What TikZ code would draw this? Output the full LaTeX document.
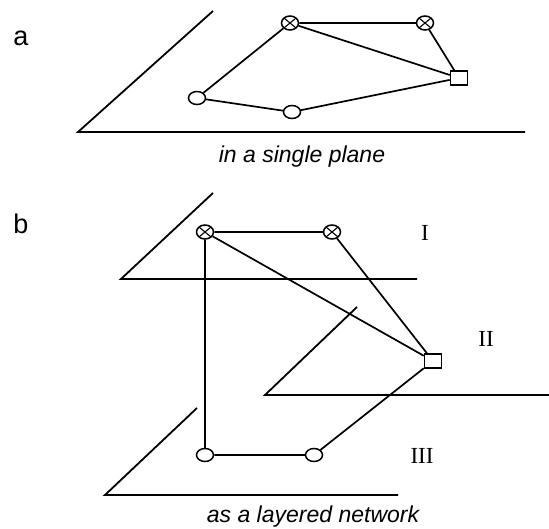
\documentclass[tikz,border=0pt]{standalone}
\usepackage{fontspec}
\setmainfont{Liberation Serif}
\setsansfont{Liberation Sans}
\usetikzlibrary{shapes.geometric,positioning}

\begin{document}
\begin{tikzpicture}[x=1pt, y=-1pt,
  plane/.style={line width=1.8pt},
  link/.style={line width=1.7pt},
  leaf/.style={draw, ellipse, line width=1.5pt, inner sep=0pt, minimum width=17pt, minimum height=13pt, fill=white},
  cross/.style={leaf, minimum height=14pt, path picture={
    \draw[line width=1.1pt] (path picture bounding box.north west) -- (path picture bounding box.south east)
      (path picture bounding box.north east) -- (path picture bounding box.south west);}},
  hub/.style={draw, rectangle, line width=1.5pt, inner sep=0pt, minimum width=17pt, minimum height=14pt, fill=white},
  tag/.style={font=\sffamily\fontsize{27}{30}\selectfont},
  captxt/.style={font=\sffamily\itshape\fontsize{23}{28}\selectfont},
  layer/.style={font=\rmfamily\fontsize{23}{26}\selectfont}]
\useasboundingbox (0,0) rectangle (549,529);

% a: everything in one plane
\node[tag] (lbla) at (21,38) {a};
\draw[plane] (213,11) -- (78,132) -- (525,132);
\node[cross] (a1) at (290,23) {};
\node[cross] (a2) at (425,23) {};
\node[hub] (a3) at (459,78) {};
\node[leaf] (a4) at (197,98) {};
\node[leaf] (a5) at (292,112) {};
\draw[link] (a1) -- (a2) (a1) -- (a3) (a2) -- (a3);
\draw[link] (a1) -- (a4) (a4) -- (a5) (a5) -- (a3);
\node[captxt] (capa) at (302,157) {in a single plane};

% b: three layers
\node[tag] (lblb) at (21,224) {b};
\draw[plane] (213,193) -- (121,279) -- (417,279);
\draw[plane] (357,307) -- (265,395) -- (549,395);
\draw[plane] (197,408) -- (105,495) -- (398,495);
\node[cross] (b1) at (205,232) {};
\node[cross] (b2) at (332,232) {};
\node[hub] (b3) at (433,361) {};
\node[leaf] (b4) at (205,455) {};
\node[leaf] (b5) at (314,455) {};
\draw[link] (b1) -- (b2) (b1) -- (b3) (b2) -- (b3);
\draw[link] (b1) -- (b4) (b4) -- (b5) (b5) -- (b3);
\node[layer] (l1) at (425,233) {I};
\node[layer] (l2) at (486,339) {II};
\node[layer] (l3) at (422,456) {III};
\node[captxt] (capb) at (313,517) {as a layered network};
\end{tikzpicture}
\end{document}
